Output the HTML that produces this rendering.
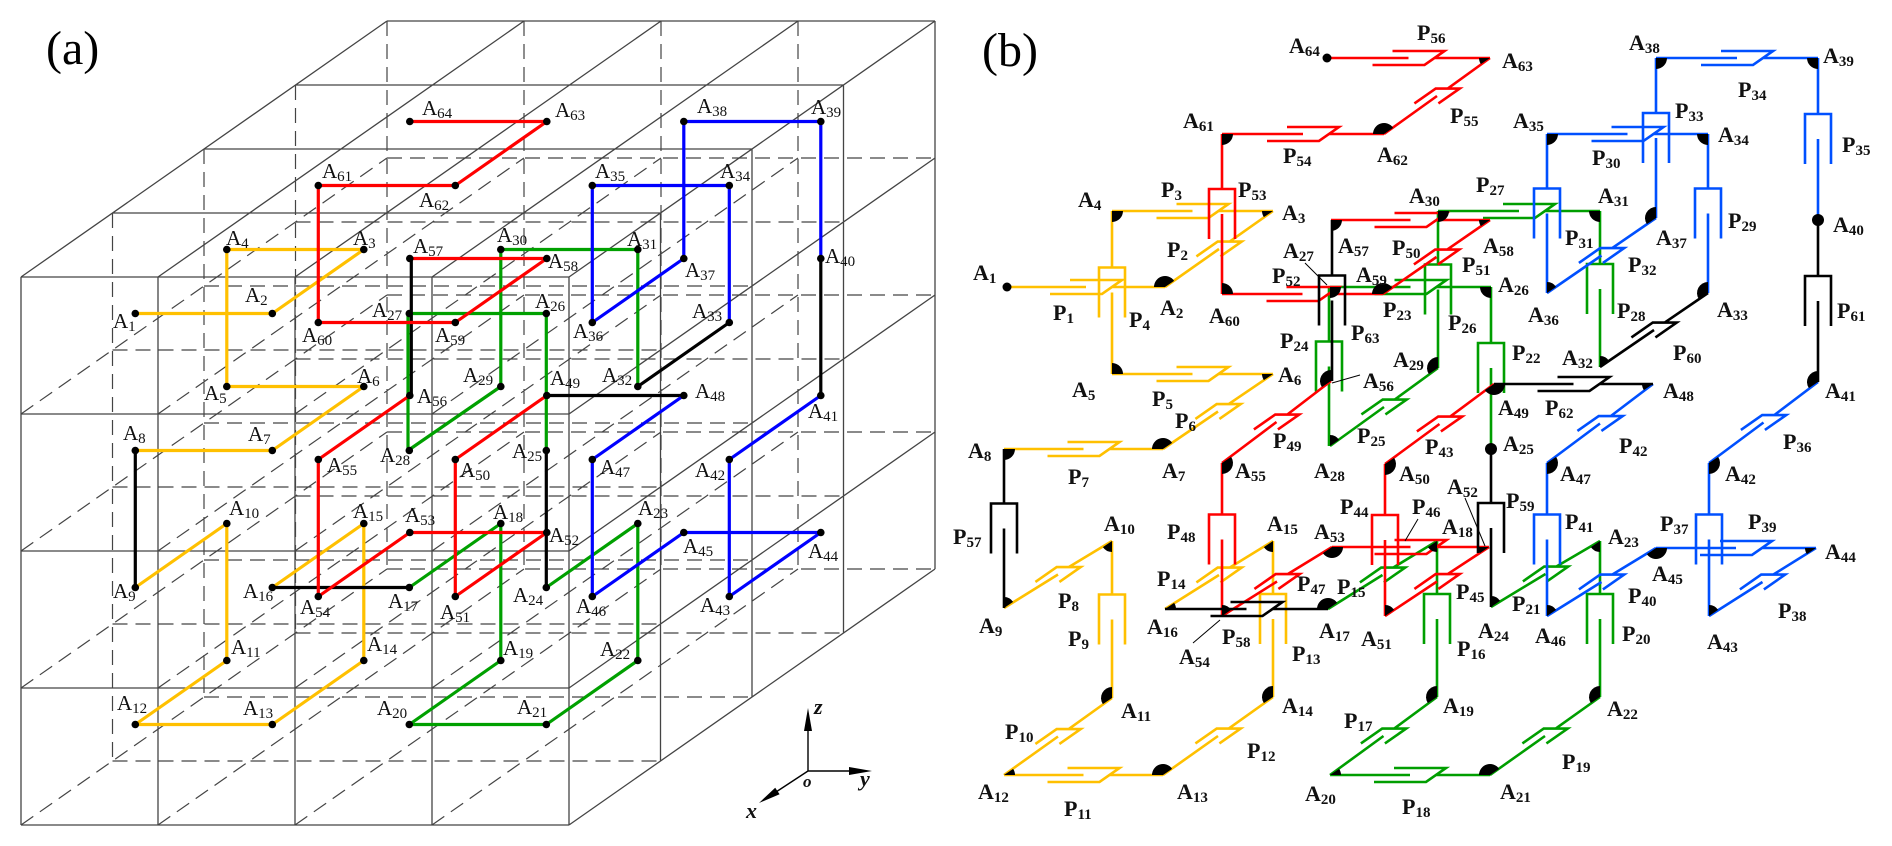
<!DOCTYPE html>
<html><head><meta charset="utf-8">
<style>
html,body{margin:0;padding:0;background:#fff;}
svg{display:block;}
.a{font-family:"Liberation Serif",serif;font-size:21px;fill:#111;}
.b{font-family:"Liberation Serif",serif;font-size:22px;font-weight:bold;fill:#111;}
.s{font-size:15px;}
.ax{font-family:"Liberation Serif",serif;font-size:22px;font-style:italic;font-weight:bold;fill:#111;}
</style></head>
<body>
<svg width="1892" height="846" viewBox="0 0 1892 846" xmlns="http://www.w3.org/2000/svg">
<defs>
<path id="T1" d="M0 0L-11 0A11 11 0 0 1 9.12 -6.15Z"/>
<path id="T2" d="M0 0L-9.12 6.15A11 11 0 0 1 -11 0Z"/>
<path id="T3" d="M0 0L11 0A11 11 0 0 1 0 11Z"/>
<path id="T4" d="M0 0L0 -11A11 11 0 0 1 11 0Z"/>
<path id="T5" d="M0 0L0 -11A11 11 0 0 1 9.12 -6.15Z"/>
<path id="T6" d="M0 0L0 11A11 11 0 0 1 -9.12 6.15Z"/>
<path id="T7" d="M0 0L-9.12 6.15A11 11 0 0 1 0 -11Z"/>
<path id="T8" d="M0 0L9.12 -6.15A11 11 0 0 1 0 11Z"/>
<path id="T9" d="M0 0L0 11A11 11 0 0 1 -11 0Z"/>
<path id="T10" d="M0 0L11 0A11 11 0 0 1 -9.12 6.15Z"/>
<path id="T11" d="M0 0L9.12 -6.15A11 11 0 0 1 11 0Z"/>
</defs>
<rect width="1892" height="846" fill="#fff"/>

<!-- ============ PANEL (a) ============ -->
<g fill="none" stroke="#444" stroke-width="1.2" stroke-dasharray="15 8">
<path d="M112.5 761H660.5M112.5 624H660.5M112.5 487H660.5M112.5 350H660.5
M204 697H752M204 560H752M204 423H752M204 286H752
M295.5 633H843.5M295.5 496H843.5M295.5 359H843.5M295.5 222H843.5
M387 569H935M387 432H935M387 295H935M387 158H935
M21 825L387 569M21 688L387 432M21 551L387 295M21 414L387 158
M158 825L524 569M158 688L524 432M158 551L524 295M158 414L524 158
M295 825L661 569M295 688L661 432M295 551L661 295M295 414L661 158
M432 825L798 569M432 688L798 432M432 551L798 295M432 414L798 158
M112.5 213V761M204 149V697M295.5 85V633M387 21V569M524 21V569M661 21V569M798 21V569"/>
</g>
<g fill="none" stroke="#444" stroke-width="1.3">
<path d="M21 277V825M158 277V825M295 277V825M432 277V825M569 277V825
M21 277H569M21 414H569M21 551H569M21 688H569M21 825H569
M112.5 213H660.5M204 149H752M295.5 85H843.5M387 21H935
M21 277L387 21M158 277L524 21M295 277L661 21M432 277L798 21M569 277L935 21
M660.5 213V761M752 149V697M843.5 85V633M935 21V569
M569 414L935 158M569 551L935 295M569 688L935 432M569 825L935 569"/>
</g>

<g fill="none" stroke-width="3.2" stroke-linejoin="round">
<polyline stroke="#FFC000" points="135.3,313.5 272.3,313.5 363.8,249.5 226.8,249.5 226.8,386.5 363.8,386.5 272.3,450.5 135.3,450.5"/>
<polyline stroke="#FFC000" points="135.3,587.5 226.8,523.5 226.8,660.5 135.3,724.5 272.3,724.5 363.8,660.5 363.8,523.5 272.3,587.5"/>
<path stroke="#000" d="M135.3 450.5V587.5M272.3 587.5H409.3M546.3 587.5V450.5M637.8 386.5L729.3 322.5M820.8 258.5V395.5M683.8 395.5H546.8M411.3 395.5V258.5"/>
<polyline stroke="#00A000" points="409.3,587.5 500.8,523.5 500.8,660.5 409.3,724.5 546.3,724.5 637.8,660.5 637.8,523.5 546.3,587.5"/>
<polyline stroke="#00A000" points="546.3,450.5 546.3,313.5 408,313.5 408,450.5 500.8,386.5 500.8,249.5 637.8,249.5 637.8,386.5"/>
<polyline stroke="#0000FF" points="729.3,322.5 729.3,185.5 592.3,185.5 592.3,322.5 683.8,258.5 683.8,121.5 820.8,121.5 820.8,258.5"/>
<polyline stroke="#0000FF" points="820.8,395.5 729.3,459.5 729.3,596.5 820.8,532.5 683.8,532.5 592.3,596.5 592.3,459.5 683.8,395.5"/>
<polyline stroke="#FF0000" points="546.8,395.5 455.3,459.5 455.3,596.5 546.8,532.5 409.8,532.5 318.3,596.5 318.3,459.5 409.8,395.5"/>
<polyline stroke="#FF0000" points="409.8,258.5 546.8,258.5 455.3,322.5 318.3,322.5 318.3,185.5 455.3,185.5 546.8,121.5 409.8,121.5"/>
</g>

<g fill="#000">
<circle cx="135.3" cy="313.5" r="3.8"/><circle cx="272.3" cy="313.5" r="3.8"/><circle cx="363.8" cy="249.5" r="3.8"/><circle cx="226.8" cy="249.5" r="3.8"/>
<circle cx="226.8" cy="386.5" r="3.8"/><circle cx="363.8" cy="386.5" r="3.8"/><circle cx="272.3" cy="450.5" r="3.8"/><circle cx="135.3" cy="450.5" r="3.8"/>
<circle cx="135.3" cy="587.5" r="3.8"/><circle cx="226.8" cy="523.5" r="3.8"/><circle cx="226.8" cy="660.5" r="3.8"/><circle cx="135.3" cy="724.5" r="3.8"/>
<circle cx="272.3" cy="724.5" r="3.8"/><circle cx="363.8" cy="660.5" r="3.8"/><circle cx="363.8" cy="523.5" r="3.8"/><circle cx="272.3" cy="587.5" r="3.8"/>
<circle cx="409.3" cy="587.5" r="3.8"/><circle cx="500.8" cy="523.5" r="3.8"/><circle cx="500.8" cy="660.5" r="3.8"/><circle cx="409.3" cy="724.5" r="3.8"/>
<circle cx="546.3" cy="724.5" r="3.8"/><circle cx="637.8" cy="660.5" r="3.8"/><circle cx="637.8" cy="523.5" r="3.8"/><circle cx="546.3" cy="587.5" r="3.8"/>
<circle cx="546.3" cy="450.5" r="3.8"/><circle cx="546.3" cy="313.5" r="3.8"/><circle cx="409.3" cy="313.5" r="3.8"/><circle cx="409.3" cy="450.5" r="3.8"/>
<circle cx="500.8" cy="386.5" r="3.8"/><circle cx="500.8" cy="249.5" r="3.8"/><circle cx="637.8" cy="249.5" r="3.8"/><circle cx="637.8" cy="386.5" r="3.8"/>
<circle cx="729.3" cy="322.5" r="3.8"/><circle cx="729.3" cy="185.5" r="3.8"/><circle cx="592.3" cy="185.5" r="3.8"/><circle cx="592.3" cy="322.5" r="3.8"/>
<circle cx="683.8" cy="258.5" r="3.8"/><circle cx="683.8" cy="121.5" r="3.8"/><circle cx="820.8" cy="121.5" r="3.8"/><circle cx="820.8" cy="258.5" r="3.8"/>
<circle cx="820.8" cy="395.5" r="3.8"/><circle cx="729.3" cy="459.5" r="3.8"/><circle cx="729.3" cy="596.5" r="3.8"/><circle cx="820.8" cy="532.5" r="3.8"/>
<circle cx="683.8" cy="532.5" r="3.8"/><circle cx="592.3" cy="596.5" r="3.8"/><circle cx="592.3" cy="459.5" r="3.8"/><circle cx="683.8" cy="395.5" r="3.8"/>
<circle cx="546.8" cy="395.5" r="3.8"/><circle cx="455.3" cy="459.5" r="3.8"/><circle cx="455.3" cy="596.5" r="3.8"/><circle cx="546.8" cy="532.5" r="3.8"/>
<circle cx="409.8" cy="532.5" r="3.8"/><circle cx="318.3" cy="596.5" r="3.8"/><circle cx="318.3" cy="459.5" r="3.8"/><circle cx="409.8" cy="395.5" r="3.8"/>
<circle cx="409.8" cy="258.5" r="3.8"/><circle cx="546.8" cy="258.5" r="3.8"/><circle cx="455.3" cy="322.5" r="3.8"/><circle cx="318.3" cy="322.5" r="3.8"/>
<circle cx="318.3" cy="185.5" r="3.8"/><circle cx="455.3" cy="185.5" r="3.8"/><circle cx="546.8" cy="121.5" r="3.8"/><circle cx="409.8" cy="121.5" r="3.8"/>
</g>

<!-- axes -->
<path d="M808 771V728M808 771H852M808 771L776 792" stroke="#000" stroke-width="1.4" fill="none"/>
<polygon points="808,708 804,731 812,731" fill="#000"/>
<polygon points="872,771 849,767 849,775" fill="#000"/>
<polygon points="759,803 779.6,794.3 775.2,787.7" fill="#000"/>
<text class="ax" x="814" y="714">z</text>
<text class="ax" x="860" y="786">y</text>
<text class="ax" x="803" y="787" style="font-size:17px">o</text>
<text class="ax" x="746" y="818">x</text>

<text x="46" y="64" style="font-family:'Liberation Serif',serif;font-size:48px;">(a)</text>

<g class="a">
<text x="113" y="328">A<tspan class="s" dy="3">1</tspan></text>
<text x="245" y="302">A<tspan class="s" dy="3">2</tspan></text>
<text x="353" y="245">A<tspan class="s" dy="3">3</tspan></text>
<text x="226" y="245">A<tspan class="s" dy="3">4</tspan></text>
<text x="204" y="400">A<tspan class="s" dy="3">5</tspan></text>
<text x="357" y="383">A<tspan class="s" dy="3">6</tspan></text>
<text x="248" y="441">A<tspan class="s" dy="3">7</tspan></text>
<text x="123" y="440">A<tspan class="s" dy="3">8</tspan></text>
<text x="113" y="598">A<tspan class="s" dy="3">9</tspan></text>
<text x="229" y="515">A<tspan class="s" dy="3">10</tspan></text>
<text x="231" y="654">A<tspan class="s" dy="3">11</tspan></text>
<text x="117" y="710">A<tspan class="s" dy="3">12</tspan></text>
<text x="243" y="715">A<tspan class="s" dy="3">13</tspan></text>
<text x="367" y="651">A<tspan class="s" dy="3">14</tspan></text>
<text x="353" y="518">A<tspan class="s" dy="3">15</tspan></text>
<text x="243" y="598">A<tspan class="s" dy="3">16</tspan></text>
<text x="388" y="608">A<tspan class="s" dy="3">17</tspan></text>
<text x="493" y="519">A<tspan class="s" dy="3">18</tspan></text>
<text x="503" y="655">A<tspan class="s" dy="3">19</tspan></text>
<text x="377" y="715">A<tspan class="s" dy="3">20</tspan></text>
<text x="517" y="714">A<tspan class="s" dy="3">21</tspan></text>
<text x="600" y="656">A<tspan class="s" dy="3">22</tspan></text>
<text x="638" y="515">A<tspan class="s" dy="3">23</tspan></text>
<text x="513" y="602">A<tspan class="s" dy="3">24</tspan></text>
<text x="512" y="458">A<tspan class="s" dy="3">25</tspan></text>
<text x="535" y="308">A<tspan class="s" dy="3">26</tspan></text>
<text x="372" y="317">A<tspan class="s" dy="3">27</tspan></text>
<text x="380" y="462">A<tspan class="s" dy="3">28</tspan></text>
<text x="463" y="382">A<tspan class="s" dy="3">29</tspan></text>
<text x="497" y="242">A<tspan class="s" dy="3">30</tspan></text>
<text x="627" y="246">A<tspan class="s" dy="3">31</tspan></text>
<text x="602" y="382">A<tspan class="s" dy="3">32</tspan></text>
<text x="692" y="318">A<tspan class="s" dy="3">33</tspan></text>
<text x="720" y="178">A<tspan class="s" dy="3">34</tspan></text>
<text x="595" y="178">A<tspan class="s" dy="3">35</tspan></text>
<text x="573" y="338">A<tspan class="s" dy="3">36</tspan></text>
<text x="685" y="277">A<tspan class="s" dy="3">37</tspan></text>
<text x="697" y="113">A<tspan class="s" dy="3">38</tspan></text>
<text x="811" y="114">A<tspan class="s" dy="3">39</tspan></text>
<text x="825" y="263">A<tspan class="s" dy="3">40</tspan></text>
<text x="808" y="418">A<tspan class="s" dy="3">41</tspan></text>
<text x="695" y="477">A<tspan class="s" dy="3">42</tspan></text>
<text x="700" y="612">A<tspan class="s" dy="3">43</tspan></text>
<text x="808" y="558">A<tspan class="s" dy="3">44</tspan></text>
<text x="683" y="553">A<tspan class="s" dy="3">45</tspan></text>
<text x="576" y="613">A<tspan class="s" dy="3">46</tspan></text>
<text x="600" y="474">A<tspan class="s" dy="3">47</tspan></text>
<text x="695" y="398">A<tspan class="s" dy="3">48</tspan></text>
<text x="550" y="385">A<tspan class="s" dy="3">49</tspan></text>
<text x="460" y="477">A<tspan class="s" dy="3">50</tspan></text>
<text x="440" y="619">A<tspan class="s" dy="3">51</tspan></text>
<text x="549" y="542">A<tspan class="s" dy="3">52</tspan></text>
<text x="405" y="522">A<tspan class="s" dy="3">53</tspan></text>
<text x="300" y="614">A<tspan class="s" dy="3">54</tspan></text>
<text x="327" y="472">A<tspan class="s" dy="3">55</tspan></text>
<text x="417" y="403">A<tspan class="s" dy="3">56</tspan></text>
<text x="413" y="253">A<tspan class="s" dy="3">57</tspan></text>
<text x="548" y="268">A<tspan class="s" dy="3">58</tspan></text>
<text x="435" y="342">A<tspan class="s" dy="3">59</tspan></text>
<text x="302" y="342">A<tspan class="s" dy="3">60</tspan></text>
<text x="322" y="178">A<tspan class="s" dy="3">61</tspan></text>
<text x="419" y="207">A<tspan class="s" dy="3">62</tspan></text>
<text x="555" y="117">A<tspan class="s" dy="3">63</tspan></text>
<text x="422" y="115">A<tspan class="s" dy="3">64</tspan></text>
</g>

<!-- ============ PANEL (b) ============ -->
<text x="982" y="66" style="font-family:'Liberation Serif',serif;font-size:48px;">(b)</text>

<g fill="none" stroke-width="2.6" stroke-linejoin="miter">
<path stroke="#FFC000" d="M1007 287L1086 287M1112 287L1165 287M1070 280L1122 280L1102 294L1050 294
M1165 287L1219 249M1229.7 241.6L1273 211M1196.4 256.4L1217.7 241.6L1241.7 241.6L1220.4 256.4
M1112 211L1192.5 211M1218.5 211L1273 211M1176.5 204L1228.5 204L1208.5 218L1156.5 218
M1112 374L1112 292.5M1112 267.5L1112 211M1099 317.5L1099 267.5L1125 267.5L1125 317.5
M1112 374L1192.5 374M1218.5 374L1273 374M1176.5 367L1228.5 367L1208.5 381L1156.5 381
M1163 449L1218 411.5M1228.7 404.1L1273 374M1195.4 418.9L1216.7 404.1L1240.7 404.1L1219.4 418.9
M1004 449L1083.5 449M1109.5 449L1163 449M1067.5 442L1119.5 442L1099.5 456L1047.5 456
M1004 608L1058 574.5M1068.7 567.1L1112 541M1035.4 581.9L1056.7 567.1L1080.7 567.1L1059.4 581.9
M1112 698L1112 619.5M1112 594.5L1112 541M1099 644.5L1099 594.5L1125 594.5L1125 644.5
M1004 775L1058 736.5M1068.7 729.1L1112 698M1035.4 743.9L1056.7 729.1L1080.7 729.1L1059.4 743.9
M1004 775L1083.5 775M1109.5 775L1163 775M1067.5 768L1119.5 768L1099.5 782L1047.5 782
M1163 775L1218 736M1228.7 728.6L1273 697M1195.4 743.4L1216.7 728.6L1240.7 728.6L1219.4 743.4
M1273 697L1273 619M1273 594L1273 541M1260 644L1260 594L1286 594L1286 644
M1165 609L1219 575M1229.7 567.6L1273 541M1196.4 582.4L1217.7 567.6L1241.7 567.6L1220.4 582.4"/>

<path stroke="#009E00" d="M1328 609L1382.5 575M1393.2 567.6L1437 541M1359.9 582.4L1381.2 567.6L1405.2 567.6L1383.9 582.4
M1437 697L1437 619M1437 594L1437 541M1424 644L1424 594L1450 594L1450 644
M1330 775L1383.5 736M1394.2 728.6L1437 697M1360.9 743.4L1382.2 728.6L1406.2 728.6L1384.9 743.4
M1330 775L1410 775M1436 775L1490 775M1394 768L1446 768L1426 782L1374 782
M1490 775L1545 736M1555.7 728.6L1600 697M1522.4 743.4L1543.7 728.6L1567.7 728.6L1546.4 743.4
M1600 697L1600 619M1600 594L1600 541M1587 644L1587 594L1613 594L1613 644
M1491 607L1545.5 574M1556.2 566.6L1600 541M1522.9 581.4L1544.2 566.6L1568.2 566.6L1546.9 581.4
M1491 449L1491 368M1491 343L1491 287M1478 393L1478 343L1504 343L1504 393
M1330 287L1410.5 287M1436.5 287L1491 287M1394.5 280L1446.5 280L1426.5 294L1374.5 294
M1329 446L1329 366.5M1329 341.5L1329 287M1316 391.5L1316 341.5L1342 341.5L1342 391.5
M1330 446L1384 407M1394.7 399.6L1438 368M1361.4 414.4L1382.7 399.6L1406.7 399.6L1385.4 414.4
M1438 368L1438 289.5M1438 264.5L1438 211M1425 314.5L1425 264.5L1451 264.5L1451 314.5
M1438 211L1519 211M1545 211L1600 211M1503 204L1555 204L1535 218L1483 218
M1600 367L1600 289M1600 264L1600 211M1587 314L1587 264L1613 264L1613 314"/>

<path stroke="#0050FF" d="M1708 293L1708 213.5M1708 188.5L1708 134M1695 238.5L1695 188.5L1721 188.5L1721 238.5
M1547 134L1627.5 134M1653.5 134L1708 134M1611.5 127L1663.5 127L1643.5 141L1591.5 141
M1547 293L1547 213.5M1547 188.5L1547 134M1534 238.5L1534 188.5L1560 188.5L1560 238.5
M1547 293L1601.5 255.5M1612.2 248.1L1656 218M1578.9 262.9L1600.2 248.1L1624.2 248.1L1602.9 262.9
M1656 218L1656 138M1656 113L1656 58M1643 163L1643 113L1669 113L1669 163
M1656 58L1737 58M1763 58L1818 58M1721 51L1773 51L1753 65L1701 65
M1818 220L1818 139M1818 114L1818 58M1805 164L1805 114L1831 114L1831 164
M1709 463L1763.5 422.5M1774.2 415.1L1818 382M1740.9 429.9L1762.2 415.1L1786.2 415.1L1764.9 429.9
M1709 616L1709 539.5M1709 514.5L1709 463M1696 564.5L1696 514.5L1722 514.5L1722 564.5
M1709 616L1762.5 582M1773.2 574.6L1816 548M1739.9 589.4L1761.2 574.6L1785.2 574.6L1763.9 589.4
M1656 548L1736 548M1762 548L1816 548M1720 541L1772 541L1752 555L1700 555
M1547 616L1601.5 582M1612.2 574.6L1656 548M1578.9 589.4L1600.2 574.6L1624.2 574.6L1602.9 589.4
M1547 616L1547 539.5M1547 514.5L1547 463M1534 564.5L1534 514.5L1560 514.5L1560 564.5
M1547 463L1600 423.5M1610.7 416.1L1653 384M1577.4 430.9L1598.7 416.1L1622.7 416.1L1601.4 430.9"/>

<path stroke="#FF0000" d="M1385 464L1439.5 424M1450.2 416.6L1494 384M1416.9 431.4L1438.2 416.6L1462.2 416.6L1440.9 431.4
M1385 616L1385 540M1385 515L1385 464M1372 565L1372 515L1398 515L1398 565
M1385 616L1437 581.5M1447.7 574.1L1489 547M1414.4 588.9L1435.7 574.1L1459.7 574.1L1438.4 588.9
M1332 547L1410.5 547M1436.5 547L1489 547M1394.5 540L1446.5 540L1426.5 554L1374.5 554
M1222 616L1277 581.5M1287.7 574.1L1332 547M1254.4 588.9L1275.7 574.1L1299.7 574.1L1278.4 588.9
M1222 616L1222 539.5M1222 514.5L1222 463M1209 564.5L1209 514.5L1235 514.5L1235 564.5
M1222 463L1276.5 422M1287.2 414.6L1331 381M1253.9 429.4L1275.2 414.6L1299.2 414.6L1277.9 429.4
M1331 220L1410.5 220M1436.5 220L1490 220M1394.5 213L1446.5 213L1426.5 227L1374.5 227
M1383 294L1436.5 257M1447.2 249.6L1490 220M1413.9 264.4L1435.2 249.6L1459.2 249.6L1437.9 264.4
M1222 294L1302.5 294M1328.5 294L1383 294M1286.5 287L1338.5 287L1318.5 301L1266.5 301
M1222 294L1222 214M1222 189L1222 134M1209 239L1209 189L1235 189L1235 239
M1222 134L1303 134M1329 134L1384 134M1287 127L1339 127L1319 141L1267 141
M1384 134L1437 96M1447.7 88.6L1490 58M1414.4 103.4L1435.7 88.6L1459.7 88.6L1438.4 103.4
M1327 58L1408.5 58M1434.5 58L1490 58M1392.5 51L1444.5 51L1424.5 65L1372.5 65"/>

<path stroke="#000" d="M1004 608L1004 528.5M1004 503.5L1004 449M991 553.5L991 503.5L1017 503.5L1017 553.5
M1165 609L1246.5 609M1272.5 609L1328 609M1230.5 602L1282.5 602L1262.5 616L1210.5 616
M1491 607L1491 528M1491 503L1491 449M1478 553L1478 503L1504 503L1504 553
M1600 367L1654 330M1664.7 322.6L1708 293M1631.4 337.4L1652.7 322.6L1676.7 322.6L1655.4 337.4
M1818 382L1818 301M1818 276L1818 220M1805 326L1805 276L1831 276L1831 326
M1494 384L1573.5 384M1599.5 384L1653 384M1557.5 377L1609.5 377L1589.5 391L1537.5 391
M1332 381L1332 300.5M1332 275.5L1332 220M1319 325.5L1319 275.5L1345 275.5L1345 325.5"/>
</g>

<!-- leader lines -->
<path d="M1305 263L1327 285M1360 375L1332 383M1193 643L1220 620M1465 498L1485 546M1418 519L1405 541" stroke="#000" stroke-width="1" fill="none"/>

<!-- node markers -->
<g fill="#000">
<circle cx="1007" cy="287" r="4.5"/>
<use href="#T1" x="1165" y="287"/>
<use href="#T2" x="1273" y="211"/>
<use href="#T3" x="1112" y="211"/>
<use href="#T4" x="1112" y="374"/>
<use href="#T2" x="1273" y="374"/>
<use href="#T1" x="1163" y="449"/>
<use href="#T3" x="1004" y="449"/>
<use href="#T5" x="1004" y="608"/>
<use href="#T6" x="1112" y="541"/>
<use href="#T7" x="1112" y="698"/>
<use href="#T11" x="1004" y="775"/>
<use href="#T1" x="1163" y="775"/>
<use href="#T7" x="1273" y="697"/>
<use href="#T6" x="1273" y="541"/>
<use href="#T11" x="1165" y="609"/>
<use href="#T1" x="1328" y="609"/>
<use href="#T6" x="1437" y="541"/>
<use href="#T7" x="1437" y="697"/>
<use href="#T11" x="1330" y="775"/>
<use href="#T1" x="1490" y="775"/>
<use href="#T7" x="1600" y="697"/>
<use href="#T6" x="1600" y="541"/>
<use href="#T5" x="1491" y="607"/>
<circle cx="1491" cy="449" r="6"/>
<use href="#T9" x="1491" y="287"/>
<use href="#T3" x="1330" y="287"/>
<use href="#T5" x="1330" y="446"/>
<use href="#T7" x="1438" y="368"/>
<use href="#T3" x="1438" y="211"/>
<use href="#T9" x="1600" y="211"/>
<use href="#T5" x="1600" y="367"/>
<use href="#T7" x="1708" y="293"/>
<use href="#T9" x="1708" y="134"/>
<use href="#T3" x="1547" y="134"/>
<use href="#T5" x="1547" y="293"/>
<use href="#T7" x="1656" y="218"/>
<use href="#T3" x="1656" y="58"/>
<use href="#T9" x="1818" y="58"/>
<circle cx="1818" cy="220" r="6"/>
<use href="#T7" x="1818" y="382"/>
<use href="#T8" x="1709" y="463"/>
<use href="#T5" x="1709" y="616"/>
<use href="#T2" x="1816" y="548"/>
<use href="#T10" x="1656" y="548"/>
<use href="#T5" x="1547" y="616"/>
<use href="#T8" x="1547" y="463"/>
<use href="#T2" x="1653" y="384"/>
<use href="#T10" x="1494" y="384"/>
<use href="#T8" x="1385" y="464"/>
<use href="#T5" x="1385" y="616"/>
<use href="#T2" x="1489" y="547"/>
<use href="#T10" x="1332" y="547"/>
<use href="#T5" x="1222" y="616"/>
<use href="#T8" x="1222" y="463"/>
<use href="#T7" x="1331" y="381"/>
<use href="#T3" x="1331" y="220"/>
<use href="#T2" x="1490" y="220"/>
<use href="#T1" x="1383" y="294"/>
<use href="#T4" x="1222" y="294"/>
<use href="#T3" x="1222" y="134"/>
<use href="#T1" x="1384" y="134"/>
<use href="#T2" x="1490" y="58"/>
<circle cx="1327" cy="58" r="4.5"/>
</g>

<g class="b">
<text x="1183" y="128">A<tspan class="s" dy="3">61</tspan></text>
<text x="1161" y="197">P<tspan class="s" dy="3">3</tspan></text>
<text x="1238" y="197">P<tspan class="s" dy="3">53</tspan></text>
<text x="1078" y="207">A<tspan class="s" dy="3">4</tspan></text>
<text x="1167" y="257">P<tspan class="s" dy="3">2</tspan></text>
<text x="973" y="280">A<tspan class="s" dy="3">1</tspan></text>
<text x="1053" y="320">P<tspan class="s" dy="3">1</tspan></text>
<text x="1129" y="327">P<tspan class="s" dy="3">4</tspan></text>
<text x="1160" y="315">A<tspan class="s" dy="3">2</tspan></text>
<text x="1209" y="323">A<tspan class="s" dy="3">60</tspan></text>
<text x="1072" y="397">A<tspan class="s" dy="3">5</tspan></text>
<text x="1152" y="406">P<tspan class="s" dy="3">5</tspan></text>
<text x="1175" y="428">P<tspan class="s" dy="3">6</tspan></text>
<text x="1417" y="40">P<tspan class="s" dy="3">56</tspan></text>
<text x="1289" y="53">A<tspan class="s" dy="3">64</tspan></text>
<text x="1502" y="68">A<tspan class="s" dy="3">63</tspan></text>
<text x="1450" y="123">P<tspan class="s" dy="3">55</tspan></text>
<text x="1513" y="128">A<tspan class="s" dy="3">35</tspan></text>
<text x="1283" y="163">P<tspan class="s" dy="3">54</tspan></text>
<text x="1377" y="162">A<tspan class="s" dy="3">62</tspan></text>
<text x="1476" y="192">P<tspan class="s" dy="3">27</tspan></text>
<text x="1409" y="203">A<tspan class="s" dy="3">30</tspan></text>
<text x="1282" y="220">A<tspan class="s" dy="3">3</tspan></text>
<text x="1338" y="253">A<tspan class="s" dy="3">57</tspan></text>
<text x="1483" y="253">A<tspan class="s" dy="3">58</tspan></text>
<text x="1283" y="258">A<tspan class="s" dy="3">27</tspan></text>
<text x="1392" y="255">P<tspan class="s" dy="3">50</tspan></text>
<text x="1462" y="272">P<tspan class="s" dy="3">51</tspan></text>
<text x="1272" y="283">P<tspan class="s" dy="3">52</tspan></text>
<text x="1356" y="282">A<tspan class="s" dy="3">59</tspan></text>
<text x="1498" y="292">A<tspan class="s" dy="3">26</tspan></text>
<text x="1383" y="317">P<tspan class="s" dy="3">23</tspan></text>
<text x="1528" y="322">A<tspan class="s" dy="3">36</tspan></text>
<text x="1448" y="330">P<tspan class="s" dy="3">26</tspan></text>
<text x="1351" y="340">P<tspan class="s" dy="3">63</tspan></text>
<text x="1280" y="348">P<tspan class="s" dy="3">24</tspan></text>
<text x="1512" y="360">P<tspan class="s" dy="3">22</tspan></text>
<text x="1393" y="367">A<tspan class="s" dy="3">29</tspan></text>
<text x="1278" y="382">A<tspan class="s" dy="3">6</tspan></text>
<text x="1363" y="388">A<tspan class="s" dy="3">56</tspan></text>
<text x="1498" y="415">A<tspan class="s" dy="3">49</tspan></text>
<text x="1545" y="415">P<tspan class="s" dy="3">62</tspan></text>
<text x="1629" y="50">A<tspan class="s" dy="3">38</tspan></text>
<text x="1823" y="63">A<tspan class="s" dy="3">39</tspan></text>
<text x="1738" y="97">P<tspan class="s" dy="3">34</tspan></text>
<text x="1675" y="118">P<tspan class="s" dy="3">33</tspan></text>
<text x="1718" y="142">A<tspan class="s" dy="3">34</tspan></text>
<text x="1842" y="152">P<tspan class="s" dy="3">35</tspan></text>
<text x="1592" y="165">P<tspan class="s" dy="3">30</tspan></text>
<text x="1598" y="203">A<tspan class="s" dy="3">31</tspan></text>
<text x="1728" y="228">P<tspan class="s" dy="3">29</tspan></text>
<text x="1833" y="232">A<tspan class="s" dy="3">40</tspan></text>
<text x="1565" y="245">P<tspan class="s" dy="3">31</tspan></text>
<text x="1656" y="245">A<tspan class="s" dy="3">37</tspan></text>
<text x="1628" y="272">P<tspan class="s" dy="3">32</tspan></text>
<text x="1617" y="318">P<tspan class="s" dy="3">28</tspan></text>
<text x="1717" y="317">A<tspan class="s" dy="3">33</tspan></text>
<text x="1837" y="318">P<tspan class="s" dy="3">61</tspan></text>
<text x="1673" y="360">P<tspan class="s" dy="3">60</tspan></text>
<text x="1562" y="365">A<tspan class="s" dy="3">32</tspan></text>
<text x="1663" y="398">A<tspan class="s" dy="3">48</tspan></text>
<text x="1825" y="398">A<tspan class="s" dy="3">41</tspan></text>
<text x="968" y="458">A<tspan class="s" dy="3">8</tspan></text>
<text x="1068" y="484">P<tspan class="s" dy="3">7</tspan></text>
<text x="1162" y="478">A<tspan class="s" dy="3">7</tspan></text>
<text x="1235" y="478">A<tspan class="s" dy="3">55</tspan></text>
<text x="953" y="544">P<tspan class="s" dy="3">57</tspan></text>
<text x="1104" y="531">A<tspan class="s" dy="3">10</tspan></text>
<text x="1167" y="539">P<tspan class="s" dy="3">48</tspan></text>
<text x="1157" y="586">P<tspan class="s" dy="3">14</tspan></text>
<text x="1058" y="608">P<tspan class="s" dy="3">8</tspan></text>
<text x="979" y="633">A<tspan class="s" dy="3">9</tspan></text>
<text x="1147" y="634">A<tspan class="s" dy="3">16</tspan></text>
<text x="1222" y="644">P<tspan class="s" dy="3">58</tspan></text>
<text x="1068" y="646">P<tspan class="s" dy="3">9</tspan></text>
<text x="1179" y="664">A<tspan class="s" dy="3">54</tspan></text>
<text x="1121" y="718">A<tspan class="s" dy="3">11</tspan></text>
<text x="1005" y="739">P<tspan class="s" dy="3">10</tspan></text>
<text x="978" y="799">A<tspan class="s" dy="3">12</tspan></text>
<text x="1177" y="799">A<tspan class="s" dy="3">13</tspan></text>
<text x="1064" y="816">P<tspan class="s" dy="3">11</tspan></text>
<text x="1247" y="758">P<tspan class="s" dy="3">12</tspan></text>
<text x="1273" y="448">P<tspan class="s" dy="3">49</tspan></text>
<text x="1357" y="443">P<tspan class="s" dy="3">25</tspan></text>
<text x="1425" y="454">P<tspan class="s" dy="3">43</tspan></text>
<text x="1503" y="451">A<tspan class="s" dy="3">25</tspan></text>
<text x="1314" y="478">A<tspan class="s" dy="3">28</tspan></text>
<text x="1399" y="481">A<tspan class="s" dy="3">50</tspan></text>
<text x="1447" y="494">A<tspan class="s" dy="3">52</tspan></text>
<text x="1340" y="514">P<tspan class="s" dy="3">44</tspan></text>
<text x="1412" y="514">P<tspan class="s" dy="3">46</tspan></text>
<text x="1506" y="508">P<tspan class="s" dy="3">59</tspan></text>
<text x="1267" y="531">A<tspan class="s" dy="3">15</tspan></text>
<text x="1314" y="539">A<tspan class="s" dy="3">53</tspan></text>
<text x="1442" y="534">A<tspan class="s" dy="3">18</tspan></text>
<text x="1297" y="591">P<tspan class="s" dy="3">47</tspan></text>
<text x="1337" y="594">P<tspan class="s" dy="3">15</tspan></text>
<text x="1456" y="599">P<tspan class="s" dy="3">45</tspan></text>
<text x="1512" y="611">P<tspan class="s" dy="3">21</tspan></text>
<text x="1319" y="638">A<tspan class="s" dy="3">17</tspan></text>
<text x="1361" y="646">A<tspan class="s" dy="3">51</tspan></text>
<text x="1478" y="638">A<tspan class="s" dy="3">24</tspan></text>
<text x="1535" y="643">A<tspan class="s" dy="3">46</tspan></text>
<text x="1292" y="661">P<tspan class="s" dy="3">13</tspan></text>
<text x="1457" y="656">P<tspan class="s" dy="3">16</tspan></text>
<text x="1282" y="713">A<tspan class="s" dy="3">14</tspan></text>
<text x="1443" y="713">A<tspan class="s" dy="3">19</tspan></text>
<text x="1344" y="728">P<tspan class="s" dy="3">17</tspan></text>
<text x="1305" y="801">A<tspan class="s" dy="3">20</tspan></text>
<text x="1402" y="814">P<tspan class="s" dy="3">18</tspan></text>
<text x="1500" y="799">A<tspan class="s" dy="3">21</tspan></text>
<text x="1619" y="453">P<tspan class="s" dy="3">42</tspan></text>
<text x="1783" y="449">P<tspan class="s" dy="3">36</tspan></text>
<text x="1560" y="481">A<tspan class="s" dy="3">47</tspan></text>
<text x="1725" y="481">A<tspan class="s" dy="3">42</tspan></text>
<text x="1565" y="529">P<tspan class="s" dy="3">41</tspan></text>
<text x="1660" y="531">P<tspan class="s" dy="3">37</tspan></text>
<text x="1748" y="529">P<tspan class="s" dy="3">39</tspan></text>
<text x="1608" y="544">A<tspan class="s" dy="3">23</tspan></text>
<text x="1825" y="559">A<tspan class="s" dy="3">44</tspan></text>
<text x="1652" y="581">A<tspan class="s" dy="3">45</tspan></text>
<text x="1628" y="603">P<tspan class="s" dy="3">40</tspan></text>
<text x="1778" y="618">P<tspan class="s" dy="3">38</tspan></text>
<text x="1622" y="641">P<tspan class="s" dy="3">20</tspan></text>
<text x="1707" y="649">A<tspan class="s" dy="3">43</tspan></text>
<text x="1607" y="716">A<tspan class="s" dy="3">22</tspan></text>
<text x="1562" y="769">P<tspan class="s" dy="3">19</tspan></text>
</g>
</svg>
</body></html>
